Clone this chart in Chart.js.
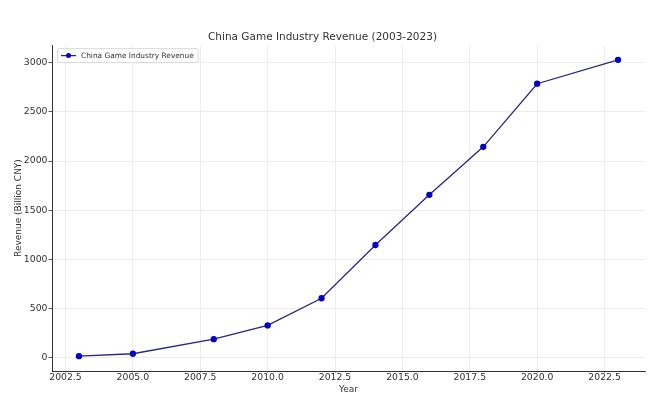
<!DOCTYPE html>
<html>
<head>
<meta charset="utf-8">
<script src="https://cdn.jsdelivr.net/npm/chart.js@4/dist/chart.umd.min.js"></script>
<style>
html,body{margin:0;padding:0;background:#fff;}
#wrap{width:660px;height:398px;}
</style>
</head>
<body>
<div id="wrap"><canvas id="c" width="660" height="398"></canvas></div>
<script>
const years = [2003, 2005, 2008, 2010, 2012, 2014, 2016, 2018, 2020, 2023];
const revenue = [13.2, 37.7, 185.6, 326.2, 602.8, 1144.8, 1655.7, 2144.4, 2786.9, 3029.6];
const xTicks = [2002.5, 2005.0, 2007.5, 2010.0, 2012.5, 2015.0, 2017.5, 2020.0, 2022.5];
const yTicks = [0, 500, 1000, 1500, 2000, 2500, 3000];
const seriesLabel = 'China Game Industry Revenue';
const FONT = "'DejaVu Sans', sans-serif";

const legendPlugin = {
  id: 'insideLegend',
  afterDraw(chart) {
    const ctx = chart.ctx;
    const a = chart.chartArea;
    const ds = chart.data.datasets[0];
    ctx.save();
    ctx.font = "7.4px " + FONT;
    const tw = ctx.measureText(ds.label).width;
    const x0 = a.left + 5, y0 = a.top + 3;
    const w = tw + 28, h = 14;
    ctx.fillStyle = 'rgba(255,255,255,0.85)';
    ctx.strokeStyle = '#d0d0d0';
    ctx.lineWidth = 0.8;
    ctx.beginPath();
    if (ctx.roundRect) ctx.roundRect(x0 + 0.5, y0 + 0.5, w, h, 2); else ctx.rect(x0 + 0.5, y0 + 0.5, w, h);
    ctx.fill(); ctx.stroke();
    const cy = y0 + h / 2 + 0.5;
    ctx.strokeStyle = ds.borderColor;
    ctx.lineWidth = 1.3;
    ctx.beginPath(); ctx.moveTo(x0 + 4, cy); ctx.lineTo(x0 + 19, cy); ctx.stroke();
    ctx.fillStyle = ds.pointBackgroundColor;
    ctx.beginPath(); ctx.arc(x0 + 11.5, cy, 2.5, 0, Math.PI * 2); ctx.fill();
    ctx.fillStyle = '#333';
    ctx.textBaseline = 'middle';
    ctx.fillText(ds.label, x0 + 24, cy + 0.5);
    ctx.restore();
  }
};

new Chart(document.getElementById('c'), {
  type: 'line',
  data: {
    datasets: [{
      label: seriesLabel,
      data: years.map((y, i) => ({x: y, y: revenue[i]})),
      borderColor: '#27277f',
      borderWidth: 1.3,
      pointBackgroundColor: '#0000c8',
      pointBorderColor: '#0000c8',
      pointRadius: 2.5,
      pointHoverRadius: 2.5,
      tension: 0,
      fill: false
    }]
  },
  options: {
    responsive: false,
    animation: false,
    devicePixelRatio: 1,
    layout: {padding: {left: 0, right: 15, top: 0, bottom: 0}},
    plugins: {
      legend: {display: false},
      tooltip: {enabled: false},
      title: {
        display: true,
        text: 'China Game Industry Revenue (2003-2023)',
        color: '#333',
        font: {family: FONT, size: 10.5, weight: 'normal'},
        padding: {top: 31, bottom: 1.5}
      }
    },
    scales: {
      x: {
        type: 'linear',
        min: 2002,
        max: 2024,
        afterBuildTicks: s => { s.ticks = xTicks.map(v => ({value: v})); },
        afterFit: s => { s.height = 27; },
        ticks: {
          color: '#333',
          font: {family: FONT, size: 9.3},
          padding: 0,
          maxRotation: 0,
          autoSkip: false,
          callback: v => Number(v).toFixed(1)
        },
        grid: {color: '#e8e8e8', lineWidth: 0.8, tickColor: '#333', tickLength: 1.5},
        border: {display: true, color: '#333', width: 1},
        title: {display: true, text: 'Year', color: '#333', font: {family: FONT, size: 9}, padding: {top: 0, bottom: 3}}
      },
      y: {
        type: 'linear',
        min: -138,
        max: 3180,
        afterBuildTicks: s => { s.ticks = yTicks.map(v => ({value: v})); },
        afterFit: s => { s.width = 52; },
        ticks: {
          color: '#333',
          font: {family: FONT, size: 9.3},
          padding: 1,
          autoSkip: false,
          callback: v => String(v)
        },
        grid: {color: '#e8e8e8', lineWidth: 0.8, tickColor: '#333', tickLength: 3.5},
        border: {display: true, color: '#333', width: 1},
        title: {display: true, text: 'Revenue (Billion CNY)', color: '#333', font: {family: FONT, size: 9}, padding: {top: 13, bottom: 4}}
      }
    }
  },
  plugins: [legendPlugin]
});
</script>
</body>
</html>
